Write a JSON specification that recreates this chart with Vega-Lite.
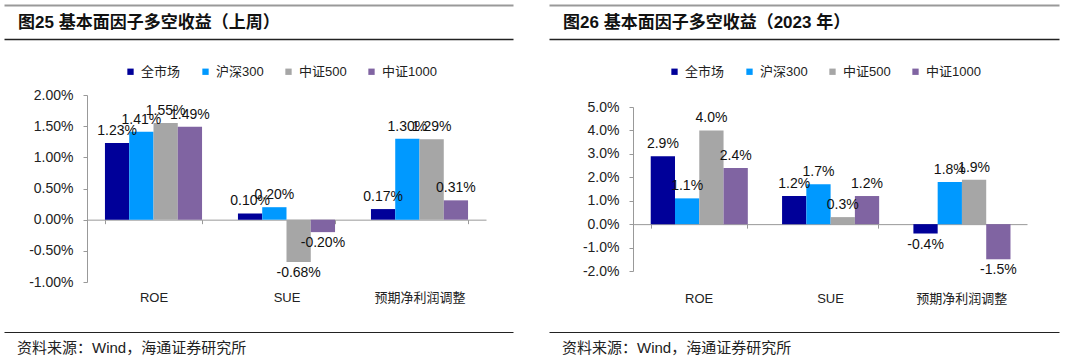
{
  "$schema": "https://vega.github.io/schema/vega-lite/v6.json",
  "background": "white",
  "padding": {"left": 4, "top": 5, "right": 5, "bottom": 4},
  "autosize": {"type": "pad"},
  "config": {
    "view": {"stroke": null},
    "font": "'Liberation Sans', 'Noto Sans CJK SC'",
    "locale": {"number": {"decimal": ".", "thousands": ",", "grouping": [3], "currency": ["", ""], "minus": "-"}}
  },
  "datasets": {
    "week": [
      {"factor": "ROE", "index": "全市场", "ret": 0.0123},
      {"factor": "ROE", "index": "沪深300", "ret": 0.0141},
      {"factor": "ROE", "index": "中证500", "ret": 0.0155},
      {"factor": "ROE", "index": "中证1000", "ret": 0.0149},
      {"factor": "SUE", "index": "全市场", "ret": 0.0010},
      {"factor": "SUE", "index": "沪深300", "ret": 0.0020},
      {"factor": "SUE", "index": "中证500", "ret": -0.0068},
      {"factor": "SUE", "index": "中证1000", "ret": -0.0020},
      {"factor": "预期净利润调整", "index": "全市场", "ret": 0.0017},
      {"factor": "预期净利润调整", "index": "沪深300", "ret": 0.0130},
      {"factor": "预期净利润调整", "index": "中证500", "ret": 0.0129},
      {"factor": "预期净利润调整", "index": "中证1000", "ret": 0.0031}
    ],
    "year": [
      {"factor": "ROE", "index": "全市场", "ret": 0.029},
      {"factor": "ROE", "index": "沪深300", "ret": 0.011},
      {"factor": "ROE", "index": "中证500", "ret": 0.040},
      {"factor": "ROE", "index": "中证1000", "ret": 0.024},
      {"factor": "SUE", "index": "全市场", "ret": 0.012},
      {"factor": "SUE", "index": "沪深300", "ret": 0.017},
      {"factor": "SUE", "index": "中证500", "ret": 0.003},
      {"factor": "SUE", "index": "中证1000", "ret": 0.012},
      {"factor": "预期净利润调整", "index": "全市场", "ret": -0.004},
      {"factor": "预期净利润调整", "index": "沪深300", "ret": 0.018},
      {"factor": "预期净利润调整", "index": "中证500", "ret": 0.019},
      {"factor": "预期净利润调整", "index": "中证1000", "ret": -0.015}
    ],
    "blank": [{}]
  },
  "hconcat": [
    {
      "vconcat": [
        {
          "width": 509, "height": 40,
          "data": {"name": "blank"},
          "title": {"text": "图25 基本面因子多空收益（上周）", "anchor": "start", "frame": "group", "orient": "top", "offset": -35, "baseline": "middle", "dx": 14, "fontSize": 17, "fontWeight": "bold", "color": "#111"},
          "mark": {"type": "rule", "opacity": 0},
          "encoding": {"y": {"datum": 0, "type": "quantitative", "scale": {"domain": [0, 1], "nice": false},
            "axis": {"values": [0.15, 1], "grid": true,
              "gridColor": {"condition": {"test": "datum.value === 1", "value": "#999"}, "value": "#222"},
              "gridWidth": {"condition": {"test": "datum.value === 1", "value": 2}, "value": 1.5},
              "domain": false, "ticks": false, "labels": false, "title": null}}}
        },
        {
          "width": 509, "height": 187,
          "data": {"name": "week"},
          "encoding": {
            "x": {"field": "factor", "type": "nominal", "sort": ["ROE", "SUE", "预期净利润调整"],
                  "scale": {"range": [83, 482], "paddingInner": 0.27, "paddingOuter": 0.135},
                  "axis": {"title": null, "orient": "bottom", "offset": -62.33, "domainColor": "#999", "tickColor": "#999", "tickSize": 4, "tickBand": "extent", "labelPadding": 68, "labelFontSize": 13, "labelColor": "#222", "labelAngle": 0}},
            "xOffset": {"field": "index", "type": "nominal", "sort": ["全市场", "沪深300", "中证500", "中证1000"], "scale": {"paddingInner": 0, "paddingOuter": 0}},
            "y": {"field": "ret", "type": "quantitative", "scale": {"domain": [-0.01, 0.02], "nice": false},
                  "axis": {"title": null, "offset": -83, "values": [-0.01, -0.005, 0, 0.005, 0.01, 0.015, 0.02], "format": ".2%", "grid": false, "domainColor": "#999", "tickColor": "#999", "tickSize": 4, "labelPadding": 10, "labelFontSize": 14, "labelColor": "#222"}}
          },
          "layer": [
            {"mark": {"type": "bar"},
             "encoding": {"color": {"field": "index", "type": "nominal", "sort": ["全市场", "沪深300", "中证500", "中证1000"],
               "scale": {"domain": ["全市场", "沪深300", "中证500", "中证1000"], "range": ["#000099", "#0099FF", "#A6A6A6", "#8064A2"]},
               "legend": {"orient": "none", "legendX": 120, "legendY": -30, "direction": "horizontal", "title": null, "symbolType": "square", "symbolSize": 40, "symbolStrokeWidth": 0, "labelFontSize": 13, "labelColor": "#222", "columnPadding": 18, "labelOffset": 4, "padding": 0}}}},
            {"transform": [{"filter": "datum.ret >= 0"}],
             "mark": {"type": "text", "baseline": "bottom", "dy": -5, "fontSize": 14, "color": "#111"},
             "encoding": {"text": {"field": "ret", "type": "quantitative", "format": ".2%"}}},
            {"transform": [{"filter": "datum.ret < 0"}],
             "mark": {"type": "text", "baseline": "top", "dy": 4, "fontSize": 14, "color": "#111"},
             "encoding": {"text": {"field": "ret", "type": "quantitative", "format": ".2%"}}}
          ]
        },
        {
          "width": 509, "height": 20,
          "data": {"name": "blank"},
          "title": {"text": "资料来源：Wind，海通证券研究所", "anchor": "start", "frame": "group", "orient": "top", "offset": -30.5, "baseline": "middle", "dx": 13, "fontSize": 15, "fontWeight": "normal", "color": "#222"},
          "mark": {"type": "rule", "opacity": 0},
          "encoding": {"y": {"datum": 0, "type": "quantitative", "scale": {"domain": [0, 1], "nice": false},
            "axis": {"values": [1], "grid": true, "gridColor": "#222", "gridWidth": 1.2, "domain": false, "ticks": false, "labels": false, "title": null}}}
        }
      ],
      "spacing": 50,
      "bounds": "flush",
      "resolve": {"scale": {"color": "independent"}, "legend": {"color": "independent"}}
    },
    {
      "vconcat": [
        {
          "width": 510, "height": 41,
          "data": {"name": "blank"},
          "title": {"text": "图26 基本面因子多空收益（2023 年）", "anchor": "start", "frame": "group", "orient": "top", "offset": -35, "baseline": "middle", "dx": 14, "fontSize": 17, "fontWeight": "bold", "color": "#111"},
          "mark": {"type": "rule", "opacity": 0},
          "encoding": {"y": {"datum": 0, "type": "quantitative", "scale": {"domain": [0, 1], "nice": false},
            "axis": {"values": [0.1707, 1], "grid": true,
              "gridColor": {"condition": {"test": "datum.value === 1", "value": "#999"}, "value": "#222"},
              "gridWidth": {"condition": {"test": "datum.value === 1", "value": 2}, "value": 1.5},
              "domain": false, "ticks": false, "labels": false, "title": null}}}
        },
        {
          "width": 510, "height": 164,
          "data": {"name": "year"},
          "encoding": {
            "x": {"field": "factor", "type": "nominal", "sort": ["ROE", "SUE", "预期净利润调整"],
                  "scale": {"range": [84, 478], "paddingInner": 0.27, "paddingOuter": 0.135},
                  "axis": {"title": null, "orient": "bottom", "offset": -46.86, "domainColor": "#999", "tickColor": "#999", "tickSize": 4, "tickBand": "extent", "labelPadding": 64, "labelFontSize": 13, "labelColor": "#222", "labelAngle": 0}},
            "xOffset": {"field": "index", "type": "nominal", "sort": ["全市场", "沪深300", "中证500", "中证1000"], "scale": {"paddingInner": 0, "paddingOuter": 0}},
            "y": {"field": "ret", "type": "quantitative", "scale": {"domain": [-0.02, 0.05], "nice": false},
                  "axis": {"title": null, "offset": -84, "values": [-0.02, -0.01, 0, 0.01, 0.02, 0.03, 0.04, 0.05], "format": ".1%", "grid": false, "domainColor": "#999", "tickColor": "#999", "tickSize": 4, "labelPadding": 10, "labelFontSize": 14, "labelColor": "#222"}}
          },
          "layer": [
            {"mark": {"type": "bar"},
             "encoding": {"color": {"field": "index", "type": "nominal", "sort": ["全市场", "沪深300", "中证500", "中证1000"],
               "scale": {"domain": ["全市场", "沪深300", "中证500", "中证1000"], "range": ["#000099", "#0099FF", "#A6A6A6", "#8064A2"]},
               "legend": {"orient": "none", "legendX": 119, "legendY": -42, "direction": "horizontal", "title": null, "symbolType": "square", "symbolSize": 40, "symbolStrokeWidth": 0, "labelFontSize": 13, "labelColor": "#222", "columnPadding": 18, "labelOffset": 4, "padding": 0}}}},
            {"transform": [{"filter": "datum.ret >= 0"}],
             "mark": {"type": "text", "baseline": "bottom", "dy": -5, "fontSize": 14, "color": "#111"},
             "encoding": {"text": {"field": "ret", "type": "quantitative", "format": ".1%"}}},
            {"transform": [{"filter": "datum.ret < 0"}],
             "mark": {"type": "text", "baseline": "top", "dy": 4, "fontSize": 14, "color": "#111"},
             "encoding": {"text": {"field": "ret", "type": "quantitative", "format": ".1%"}}}
          ]
        },
        {
          "width": 510, "height": 20,
          "data": {"name": "blank"},
          "title": {"text": "资料来源：Wind，海通证券研究所", "anchor": "start", "frame": "group", "orient": "top", "offset": -30.5, "baseline": "middle", "dx": 13, "fontSize": 15, "fontWeight": "normal", "color": "#222"},
          "mark": {"type": "rule", "opacity": 0},
          "encoding": {"y": {"datum": 0, "type": "quantitative", "scale": {"domain": [0, 1], "nice": false},
            "axis": {"values": [1], "grid": true, "gridColor": "#222", "gridWidth": 1.2, "domain": false, "ticks": false, "labels": false, "title": null}}}
        }
      ],
      "spacing": 61,
      "bounds": "flush",
      "resolve": {"scale": {"color": "independent"}, "legend": {"color": "independent"}}
    }
  ],
  "spacing": 36,
  "resolve": {"scale": {"color": "independent"}, "legend": {"color": "independent"}}
}
